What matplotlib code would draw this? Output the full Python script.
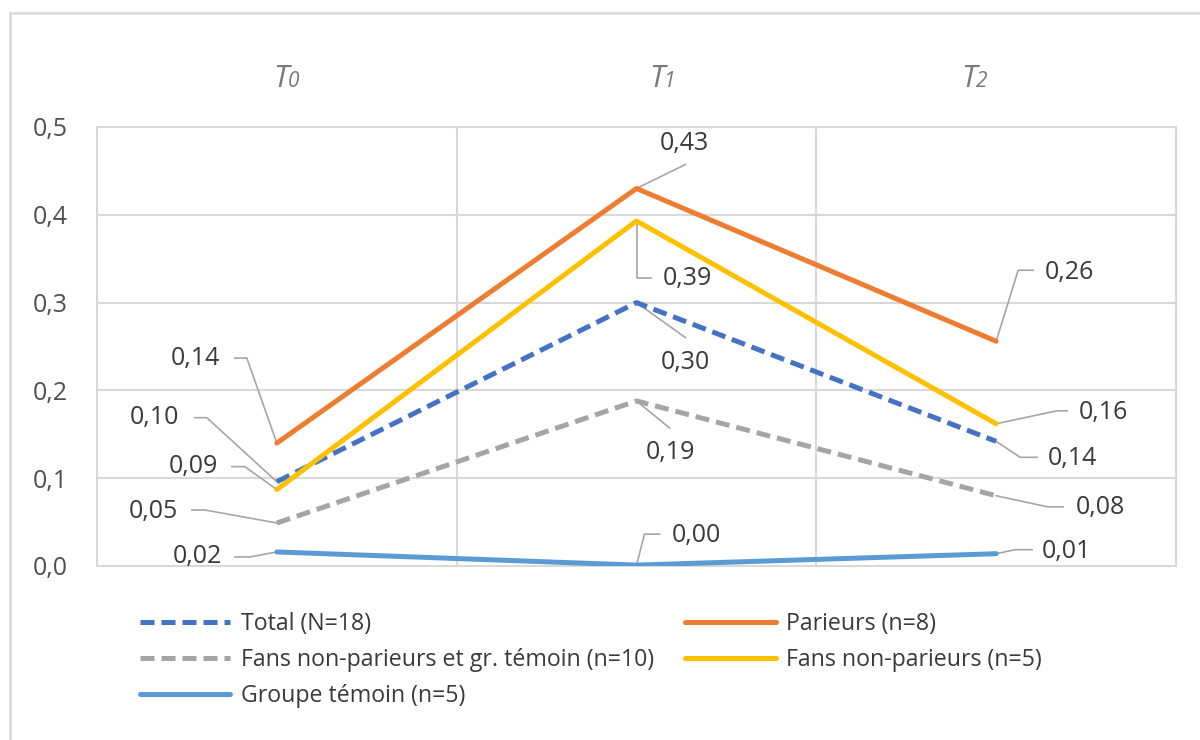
import numpy as np
import matplotlib
matplotlib.use("Agg")
import matplotlib.pyplot as plt
from matplotlib.lines import Line2D

plt.rcParams['font.family'] = ['Open Sans', 'DejaVu Sans']

# Données
temps = ['T0', 'T1', 'T2']
total = [0.096, 0.300, 0.142]
parieurs = [0.140, 0.430, 0.256]
fans_temoin = [0.049, 0.188, 0.080]
fans = [0.087, 0.393, 0.162]
temoin = [0.016, 0.001, 0.014]
yticks = [0.0, 0.1, 0.2, 0.3, 0.4, 0.5]

series = [
    ('Total (N=18)', total, '#4472C4', (0, (2.8, 1.4))),
    ('Parieurs (n=8)', parieurs, '#ED7D31', '-'),
    ('Fans non-parieurs et gr. témoin (n=10)', fans_temoin, '#A5A5A5', (0, (2.8, 1.4))),
    ('Fans non-parieurs (n=5)', fans, '#FFC000', '-'),
    ('Groupe témoin (n=5)', temoin, '#5B9BD5', '-'),
]

# Positions des étiquettes (décalages en pixels, y vers le bas) : texte, coude, fin du trait
label_pos = {
    'Total (N=18)': [(-122, -64, -70, -64, -82, -64), (49, 60, 49, 35, 49, 35), (76, 17, 24, 16, 41, 16)],
    'Parieurs (n=8)': [(-81, -85, -30, -85, -42, -85), (48, -45, 49, -24, 49, -24), (73, -69, 22, -71, 37, -71)],
    'Fans non-parieurs et gr. témoin (n=10)': [(-123, -11, -72, -13, -85, -13), (34, 52, 33, 27, 33, 27), (104, 12, 51, 11, 67, 11)],
    'Fans non-parieurs (n=5)': [(-83, -23, -32, -23, -45, -23), (51, 58, 0, 57, 14, 57), (107, -11, 61, -13, 71, -13)],
    'Groupe témoin (n=5)': [(-79, 5, -27, 5, -42, 5), (60, -30, 8, -31, 23, -31), (70, -2, 19, -4, 36, -4)],
}

W, H = 1200, 740
fig = plt.figure(figsize=(W / 100, H / 100), dpi=100)
ax = fig.add_axes([97 / W, 1 - 566 / H, (1176 - 97) / W, (566 - 127) / H])

grid_col = '#d9d9d9'
txt_col = '#3a3a3a'
ax.set_xlim(-0.5, 2.5)
ax.set_ylim(0, 0.5)
ax.set_yticks(yticks)
ax.set_yticklabels([('%.1f' % v).replace('.', ',') for v in yticks])
ax.set_xticks([])
ax.tick_params(axis='y', length=0, pad=21, labelsize=18, labelcolor='#505050')
for s in ax.spines.values():
    s.set_color(grid_col)
    s.set_linewidth(1.5)
for v in yticks[1:-1]:
    ax.axhline(v, color=grid_col, lw=1.5, zorder=0)
for v in [0.5, 1.5]:
    ax.axvline(v, color=grid_col, lw=1.5, zorder=0)

x = np.arange(len(temps))
handles = {}
for name, vals, col, ls in series:
    ln, = ax.plot(x, vals, color=col, lw=3.6, linestyle=ls, solid_capstyle='round', zorder=3)
    handles[name] = ln

# Étiquettes de données avec traits de rappel
inv = ax.transData.inverted()
for name, vals, col, ls in series:
    for i, v in enumerate(vals):
        tx, ty, ex, ey, fx, fy = label_pos[name][i]
        px, py = ax.transData.transform((x[i], v))
        pts = np.array([[px, py], [px + ex, py - ey], [px + fx, py - fy]])
        d = inv.transform(pts)
        ax.plot(d[:, 0], d[:, 1], color='#a6a6a6', lw=1.2, zorder=2)
        ax.annotate(('%.2f' % v).replace('.', ','), (x[i], v), xytext=(tx, -ty),
                    textcoords='offset pixels', ha='center', va='center',
                    fontsize=18, color=txt_col, zorder=4)

# Titres des temps : T en italique + indice
for k, xp in enumerate([289, 665, 977]):
    fig.text(xp / W, 1 - 87 / H, 'T', ha='right', va='baseline', fontsize=22,
             style='italic', color='#7a7a7a')
    fig.text((xp - 1) / W, 1 - 87 / H, str(k), ha='left', va='baseline', fontsize=15,
             style='italic', color='#7a7a7a')

# Cadre extérieur
fig.add_artist(Line2D([10 / W, 1], [1 - 13 / H, 1 - 13 / H], color=grid_col, lw=1.8))
fig.add_artist(Line2D([10 / W, 10 / W], [0, 1 - 13 / H], color=grid_col, lw=1.8))

order = ['Total (N=18)', 'Fans non-parieurs et gr. témoin (n=10)', 'Groupe témoin (n=5)',
         'Parieurs (n=8)', 'Fans non-parieurs (n=5)']
leg = fig.legend([handles[k] for k in order], order, loc='upper left',
                 bbox_to_anchor=(140 / W, 1 - 612 / H), ncol=2, frameon=False,
                 fontsize=16.7, handlelength=3.9, handletextpad=0.45,
                 labelspacing=0.52, columnspacing=1.35, borderpad=0, borderaxespad=0)
for t in leg.get_texts():
    t.set_color(txt_col)

fig.savefig('out.png', dpi=100)
